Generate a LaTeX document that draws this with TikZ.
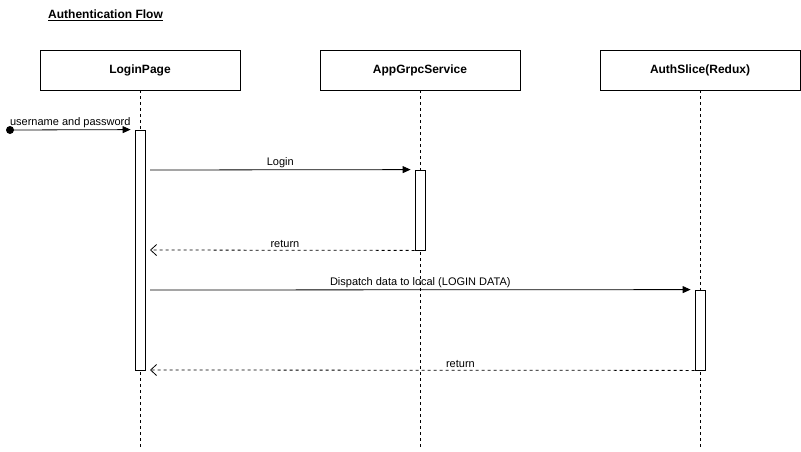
\documentclass[tikz,border=0pt]{standalone}
\usepackage{fontspec}
\setmainfont{Liberation Sans}
\usetikzlibrary{arrows.meta}
\begin{document}
\begin{tikzpicture}[x=1pt,y=-1pt,
  actor/.style={draw,line width=0.8pt,minimum width=200pt,minimum height=40pt,inner sep=0pt,font=\bfseries\fontsize{12}{14}\selectfont},
  lifeline/.style={dashed,dash pattern=on 3pt off 3pt,line width=0.7pt},
  act/.style={draw,fill=white,line width=0.8pt,minimum width=10pt,inner sep=0pt},
  msg/.style={line width=0.8pt,-{Triangle[length=8pt,width=7pt]}},
  ret/.style={line width=0.8pt,dashed,dash pattern=on 3pt off 3pt,-{Straight Barb[length=6pt,width=11pt,line width=0.8pt]}},
  lbl/.style={font=\fontsize{11}{13}\selectfont,inner sep=1pt}]
\useasboundingbox (0,0) rectangle (801,451);
\node[font=\bfseries\fontsize{12}{14}\selectfont,anchor=west,inner sep=0pt] (title) at (48,15) {\underline{Authentication Flow}};
\node[actor] (lp) at (140,70) {LoginPage};
\node[actor] (ag) at (420,70) {AppGrpcService};
\node[actor] (as) at (700,70) {AuthSlice(Redux)};
\coordinate (lpe) at (140,450);
\coordinate (age) at (420,450);
\coordinate (ase) at (700,450);
\draw[lifeline] (lp.south) -- (lpe);
\draw[lifeline] (ag.south) -- (age);
\draw[lifeline] (as.south) -- (ase);
\node[act,minimum height=240pt] (lpa) at (140,250) {};
\node[act,minimum height=80pt] (aga) at (420,210) {};
\node[act,minimum height=80pt] (asa) at (700,330) {};
\coordinate (start) at (10,130);
\fill (start) circle (4pt);
\draw[msg] (start) -- ([xshift=-4pt]lpa.north west) node[lbl,midway,above=1pt] {username and password};
\coordinate (l1) at (150,170);
\draw[msg] (l1) -- ([xshift=-4pt]aga.north west) node[lbl,midway,above=1pt] {Login};
\coordinate (r1) at (150,250);
\draw[ret] (aga.south west) -- (r1) node[lbl,pos=0.49,above=1pt] {return};
\coordinate (d1) at (150,290);
\draw[msg] (d1) -- ([xshift=-4pt]asa.north west) node[lbl,midway,above=1pt] {Dispatch data to local (LOGIN DATA)};
\coordinate (r2) at (150,370);
\draw[ret] (asa.south west) -- (r2) node[lbl,pos=0.43,above=1pt] {return};
\end{tikzpicture}
\end{document}
